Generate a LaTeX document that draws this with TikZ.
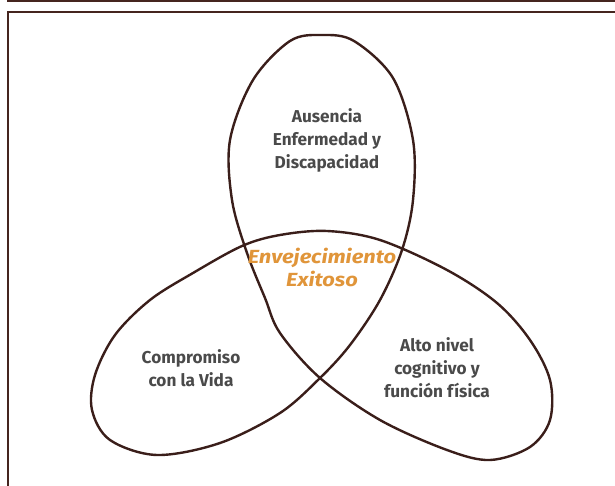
\documentclass[tikz,border=0pt]{standalone}
\usepackage{fontspec}
\setmainfont{Fira Sans}
\newfontfamily\ctrfont[FakeStretch=1.15]{Fira Sans}
\definecolor{frame}{HTML}{45251F}
\definecolor{curve}{HTML}{3A1E1A}
\definecolor{txt}{HTML}{4A4A4A}
\definecolor{orange}{HTML}{E0953A}
\begin{document}
\begin{tikzpicture}[x=1pt,y=-1pt,
  lbl/.style={align=center,text=txt,font=\fontsize{17.2}{23}\selectfont\bfseries,inner sep=0pt},
  ctr/.style={align=center,text=orange,font=\ctrfont\fontsize{19}{23}\selectfont\bfseries\itshape,inner sep=0pt}]
\useasboundingbox (0,0) rectangle (615,486);
\draw[frame,line width=2pt] (7,1) -- (615,1);
\draw[frame,line width=2pt] (8,486) -- (8,12) -- (615,12);
\draw[curve,line width=2.4pt,line join=round] plot[smooth cycle,tension=0.55] coordinates {
 (322,35) (354,41) (393,78) (413,140) (413,200) (402,250) (380,300) (350,345) (320,378)
 (280,413) (220,443) (157,455) (110,440) (92,410) (95,375) (115,335) (150,300)
 (193,273) (242,246) (280,235) (327,231) (380,240) (447,270) (497,303) (530,340)
 (550,380) (550,420) (530,447) (490,460) (447,450) (380,420) (320,378) (280,333)
 (265,298) (247,253) (232,200) (230,140) (253,80) (290,41)};
\node[lbl] (top) at (327,140) {Ausencia\\Enfermedad y\\Discapacidad};
\node[ctr] (mid) at (322,267) {Envejecimiento\\Exitoso};
\node[lbl] (left) at (191,368) {Compromiso\\con la Vida};
\node[lbl] (right) at (437,368) {Alto nivel\\cognitivo y\\función física};
\end{tikzpicture}
\end{document}
